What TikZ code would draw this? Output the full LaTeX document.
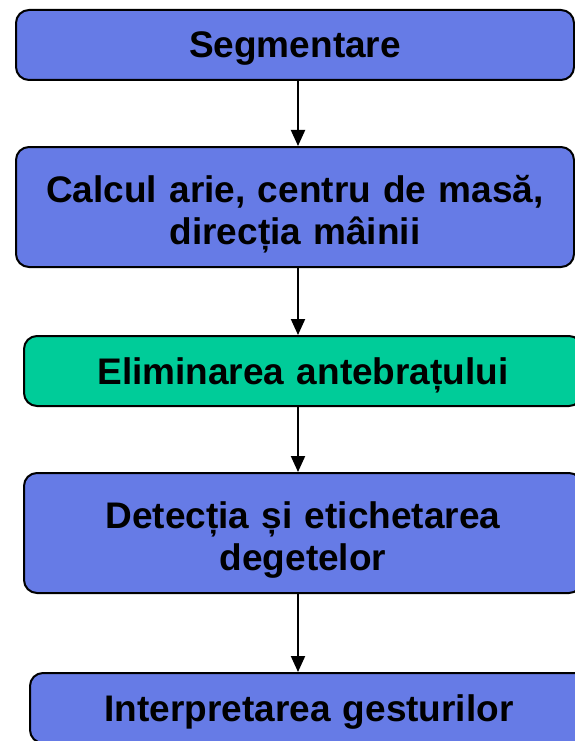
\documentclass[tikz,border=0pt]{standalone}
\usepackage{fontspec}
\setmainfont{Liberation Sans}
\usetikzlibrary{arrows.meta}
\definecolor{boxblue}{RGB}{102,123,230}
\definecolor{boxgreen}{RGB}{0,204,153}
\tikzset{
  stepbox/.style={draw=black, line width=2pt, rounded corners=13pt, fill=boxblue,
    minimum width=558pt, align=center, text width=540pt,
    font=\fontsize{37}{42}\selectfont\bfseries},
  onebox/.style={stepbox, minimum height=70pt, text depth=0pt},
  twobox/.style={stepbox, minimum height=120pt, text depth=36pt},
  flow/.style={line width=2pt, -{Triangle[length=16pt,width=14pt]}}
}

\begin{document}
\begin{tikzpicture}[x=1pt,y=1pt]
\useasboundingbox (0,0) rectangle (575,-741);
\clip (0,0) rectangle (575,-741);
\node[onebox] (seg) at (295,-45) {Segmentare};
\node[twobox] (calc) at (295,-207) {Calcul arie, centru de masă,\\direcția mâinii};
\node[onebox, fill=boxgreen] (elim) at (303,-371) {Eliminarea antebrațului};
\node[twobox] (det) at (303,-533) {Detecția și etichetarea\\degetelor};
\node[onebox] (interp) at (309,-708) {Interpretarea gesturilor};
\coordinate (ax) at (298,0);
\draw[flow] (seg.south -| ax) -- (calc.north -| ax);
\draw[flow] (calc.south -| ax) -- (elim.north -| ax);
\draw[flow] (elim.south -| ax) -- (det.north -| ax);
\draw[flow] (det.south -| ax) -- (interp.north -| ax);
\end{tikzpicture}
\end{document}
